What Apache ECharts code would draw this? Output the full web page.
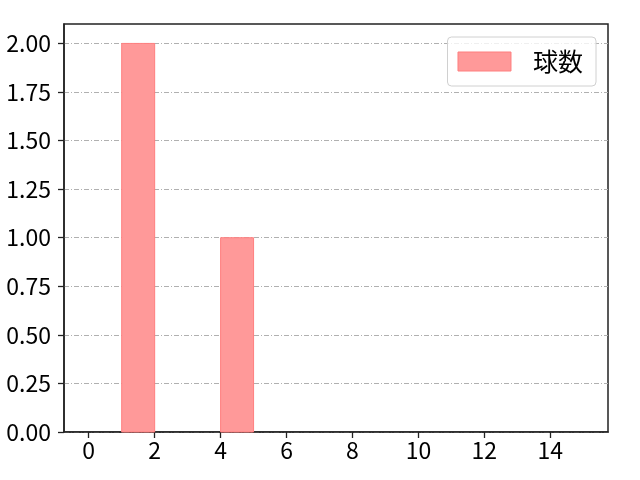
<!DOCTYPE html>
<html><head><meta charset="utf-8">
<script src="https://cdn.jsdelivr.net/npm/echarts@6/dist/echarts.min.js"></script>
<style>html,body{margin:0;padding:0;background:#fff}#c{width:640px;height:480px}</style>
</head><body><div id="c"></div>
<script>
const binStarts = [0,1,2,3,4,5,6,7,8,9,10,11,12,13,14];
const binEnds   = [1,2,3,4,5,6,7,8,9,10,11,12,13,14,15];
const counts    = [0,2,0,0,1,0,0,0,0,0,0,0,0,0,0];
const xTicks = [0,2,4,6,8,10,12,14];
const yTicks = [0,0.25,0.5,0.75,1,1.25,1.5,1.75,2];
const seriesName = '球数';

const font = '"Noto Sans CJK JP", "Noto Sans", sans-serif';
const data = binStarts.map((s,i)=>[s, binEnds[i], counts[i]]);
const chart = echarts.init(document.getElementById('c'), null, {renderer:'canvas'});
chart.setOption({
  animation:false,
  backgroundColor:'#fff',
  grid:{left:64,right:32,top:24,bottom:48,show:true,borderColor:'#222',borderWidth:1.5,backgroundColor:'transparent'},
  legend:{
    right:44, top:37, itemWidth:53, itemHeight:19, itemGap:10,
    padding:[12,13,12,10],
    borderColor:'#d0d0d0', borderWidth:1, borderRadius:4,
    backgroundColor:'rgba(255,255,255,0.8)',
    textStyle:{fontSize:25,lineHeight:22,fontFamily:font,color:'#000',padding:[0,0,0,17]},
    data:[{name:seriesName,icon:'rect',itemStyle:{color:'#ff9999',borderColor:'#ff7f7f',borderWidth:1}}]
  },
  xAxis:{
    type:'value', min:-0.75, max:15.75,
    axisLine:{show:true,onZero:false,lineStyle:{color:'#222',width:1.5}},
    axisTick:{show:true,length:6,lineStyle:{color:'#222',width:1.3},customValues:xTicks},
    axisLabel:{fontSize:23,fontFamily:font,color:'#000',margin:7,customValues:xTicks},
    splitLine:{show:false}
  },
  yAxis:{
    type:'value', min:0, max:2.1, interval:0.25,
    axisLine:{show:true,onZero:false,lineStyle:{color:'#222',width:1.5}},
    axisTick:{show:true,length:6,lineStyle:{color:'#222',width:1.3},customValues:yTicks},
    axisLabel:{fontSize:23,fontFamily:font,color:'#000',margin:13,customValues:yTicks,
      formatter:v=>Number(v).toFixed(2)},
    splitLine:{show:true,lineStyle:{color:'#b0b0b0',width:1,type:[5,2,1,2]}}
  },
  series:[{
    name:seriesName, type:'custom',
    itemStyle:{color:'#ff9999',borderColor:'#ff7f7f',borderWidth:1},
    encode:{x:[0,1],y:2},
    renderItem:(params,api)=>{
      const h = api.value(2);
      if(!h) return null;
      const p0 = api.coord([api.value(0),0]);
      const p1 = api.coord([api.value(1),h]);
      return {type:'rect',shape:{x:p0[0],y:p1[1],width:p1[0]-p0[0],height:p0[1]-p1[1]},
        style:{fill:'#ff9999',stroke:'#ff7f7f',lineWidth:1}};
    },
    data:data
  }]
});
</script></body></html>
